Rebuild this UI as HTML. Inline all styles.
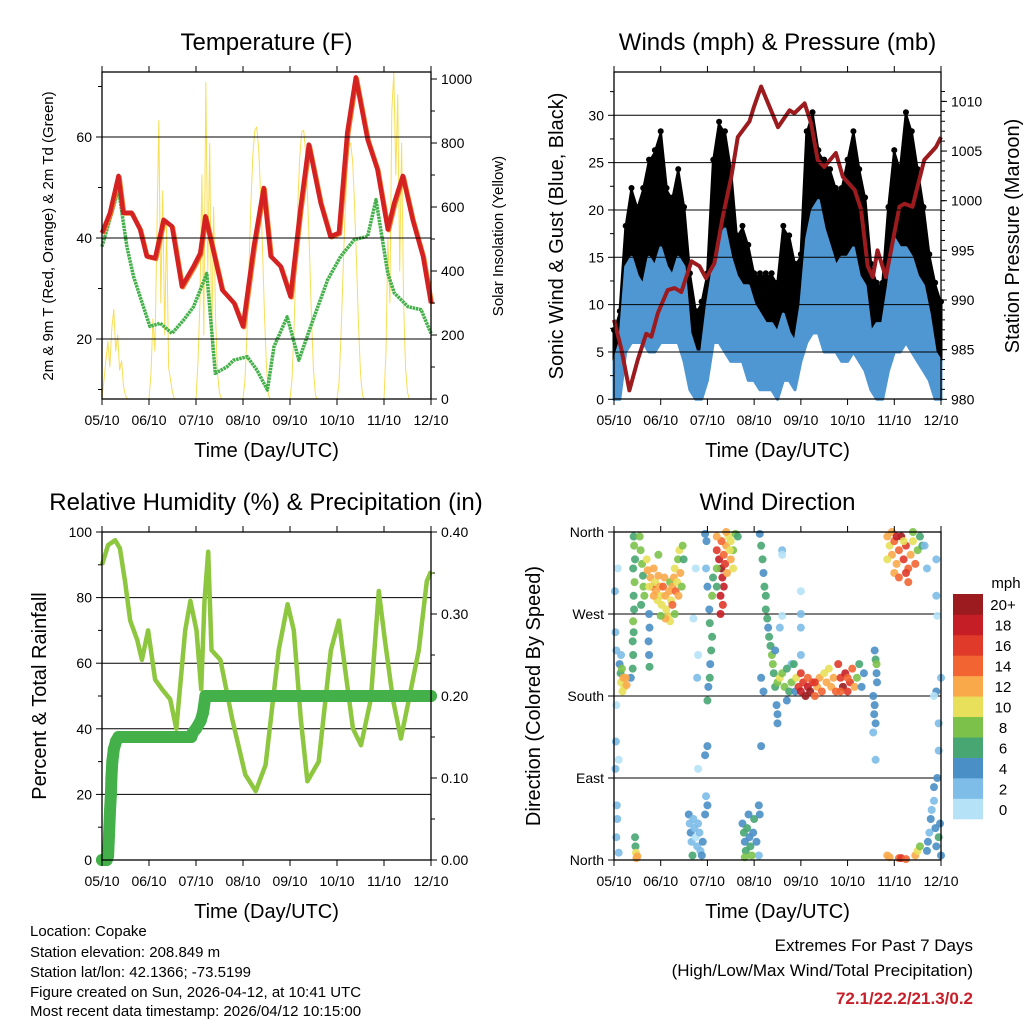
<!DOCTYPE html>
<html><head><meta charset="utf-8"><style>
html,body{margin:0;padding:0;background:#fff;}
svg{display:block;font-family:"Liberation Sans",sans-serif;}
</style></head><body>
<svg id="c" width="1024" height="1024" viewBox="0 0 1024 1024">
<g id="g"></g>
<g font-size="15" fill="#000">
<text x="30" y="936">Location: Copake</text>
<text x="30" y="957">Station elevation: 208.849 m</text>
<text x="30" y="977">Station lat/lon: 42.1366; -73.5199</text>
<text x="30" y="997">Figure created on Sun, 2026-04-12, at 10:41 UTC</text>
<text x="30" y="1016">Most recent data timestamp: 2026/04/12 10:15:00</text>
</g>
<g text-anchor="end">
<text x="973" y="951" font-size="17">Extremes For Past 7 Days</text>
<text x="973" y="976" font-size="17">(High/Low/Max Wind/Total Precipitation)</text>
<text x="973" y="1004" font-size="17" font-weight="bold" fill="#c8202a">72.1/22.2/21.3/0.2</text>
</g>
</svg>
<script>
// ---------- data ----------
const xTickLabels = ["05/10","06/10","07/10","08/10","09/10","10/10","11/10","12/10"];
const tempTimes = [0,0.17,0.35,0.45,0.63,0.81,0.95,1.13,1.31,1.49,1.7,1.95,2.09,2.2,2.38,2.56,2.81,3.0,3.23,3.44,3.59,3.8,4.01,4.22,4.4,4.65,4.86,5.04,5.22,5.4,5.65,5.86,6.08,6.22,6.4,6.61,6.83,7.0];
const tempValues = [41,45,52.3,45,45,41.7,36.4,36,43.6,42.3,30.4,34.4,37,44.3,37,29.7,27.1,22.5,38.3,49.9,36.4,34.4,28.4,45.6,58.5,47,40.3,41,60.9,71.8,59.5,53.6,41.7,47,52.3,43.6,36.4,27.1];
const dewTimes = [0,0.35,0.53,0.67,0.88,1.02,1.24,1.49,1.74,1.95,2.23,2.41,2.66,2.8,3.09,3.3,3.52,3.66,3.94,4.19,4.44,4.8,5.08,5.37,5.65,5.83,6.08,6.22,6.51,6.79,7.0];
const dewValues = [38.3,49.6,38.3,32.4,26.4,22.5,23.1,21.1,23.8,26.4,33,13.2,14.5,15.8,16.5,13.8,9.9,18.5,24.4,15.8,22.5,31.7,36.4,39.7,40.3,47.6,33,29.1,26.4,25.8,21.1];
// hourly solar insolation (W/m2), 24 per day
const solarValues = [
0,60,120,180,100,220,280,150,200,90,120,40,10,0,0,0,0,0,0,0,0,0,0,0,
0,80,250,150,500,870,300,650,200,550,100,60,20,0,0,0,0,0,0,0,0,0,0,0,
0,120,300,700,200,990,400,800,150,600,250,80,20,0,0,0,0,0,0,0,0,0,0,0,
0,60,200,400,600,760,840,850,780,640,460,260,100,10,0,0,0,0,0,0,0,0,0,0,
0,60,210,420,610,760,835,840,770,630,450,250,90,10,0,0,0,0,0,0,0,0,0,0,
0,50,190,380,560,700,790,800,740,600,420,230,80,10,0,0,0,0,0,0,0,0,0,0,
0,150,500,300,900,1020,700,950,400,800,300,100,20,0,0,0,0,0,0,0,0,0,0,0,
0];
const windHi = [4,6,14,15,13,12,15,14, 16,14,13,15,14,7,5,5, 10,14,17,18,15,13,12,12, 10,9,8,8,7,9,7,6, 10,17,20,21,18,16,14,15, 15,16,13,12,7,8,8,12, 17,16,16,15,13,12,9,5, 4];
const windLo = [0,0,5,6,6,6,5,5, 6,6,6,6,4,1,0,0, 2,6,6,5,4,4,4,2, 2,1,1,1,0,2,2,1, 4,6,7,7,5,5,5,4, 4,5,4,3,1,0,0,3, 5,5,6,5,4,3,2,0, 0];
const gustHi = [7,9,18,22,20,22,25,26, 28,22,21,24,20,13,9,10, 13,25,29,28,24,17,18,16, 13,13,13,13,12,18,17,14, 15,28,30,26,25,24,22,22, 25,28,24,21,14,12,12,20, 26,24,30,28,24,20,15,12, 10];
const gustLo = [0,2,9,10,10,9,11,11, 12,12,12,12,8,2,1,2, 6,11,14,12,9,8,7,5, 4,3,3,3,2,4,5,3, 8,12,13,12,10,10,10,9, 10,10,9,6,3,2,2,6, 11,10,11,10,8,7,4,1, 0];
const presTimes = [0,0.16,0.33,0.51,0.69,0.8,0.94,1.15,1.3,1.44,1.66,1.83,1.97,2.15,2.33,2.51,2.65,2.9,3.0,3.15,3.36,3.51,3.76,3.86,4.08,4.22,4.36,4.5,4.75,4.9,5.15,5.29,5.43,5.54,5.64,5.82,6.11,6.22,6.39,6.64,6.89,7.0];
const presValues = [988,985,980.9,984,986.6,986.3,988.7,991,991.2,990.8,993.9,993.4,992.2,993.7,998.4,1002.4,1006.4,1008,1009.5,1011.5,1009.1,1007.4,1009.1,1008.8,1009.8,1007.8,1004.1,1003.4,1004.8,1002.4,1001.1,999.1,993.4,992.3,995,992.3,999.4,999.7,999.4,1004.1,1005.4,1006.4];
const rhTimes = [0,0.13,0.28,0.38,0.49,0.6,0.75,0.85,0.98,1.13,1.28,1.45,1.58,1.77,1.88,2.01,2.11,2.18,2.26,2.33,2.52,2.77,3.05,3.27,3.48,3.76,3.95,4.08,4.23,4.37,4.61,4.87,5.04,5.12,5.34,5.51,5.72,5.89,6.02,6.19,6.36,6.53,6.74,6.91,7];
const rhValues = [90,96,97.5,95,85,73,67,61,70,55,52,49,40,70,79,70,52,79,94,64,61,43,26,21,29,64,78,70,43,24,30,64,73,64,40,35,49,82,67,49,37,49,64,85,88];
const precTimes = [0,0.1,0.13,0.15,0.17,0.19,0.2,0.22,0.25,0.3,0.35,1.9,1.93,2.0,2.1,2.15,2.2,7];
const precValues = [0,0,0.005,0.03,0.06,0.08,0.1,0.12,0.135,0.145,0.15,0.15,0.155,0.16,0.17,0.18,0.2,0.2];
const wdTime = [0.42,0.43,0.45,0.41,0.44,0.42,0.43,0.41,0.42,0.40,0.41,0.40,0.36,0.55,0.57,0.6,0.62,0.63,0.65,0.58,0.75,0.76,0.74,0.75,0.76,
0.7,0.72,0.78,0.82,0.85,0.88,0.9,0.93,0.95,0.98,1.0,1.02,1.05,1.08,1.1,1.12,1.15,1.18,1.2,1.22,1.25,1.28,1.3,1.32,1.35,1.37,1.4,1.42,1.45,1.47,1.49,1.3,1.2,1.1,1.0,0.95,0.85,0.75,1.25,1.38,
0.12,0.14,0.15,0.17,0.2,0.22,0.18,0.25,0.27,0.15,0.05,0.03,0.02,0.08,0.05,0.04,0.1,0.03,0.45,0.46,0.47,0.5,0.48,0.06,0.07,0.05,0.1,
1.6,1.62,1.64,1.66,1.7,1.72,1.75,1.78,1.8,1.83,1.85,1.9,1.95,1.97,2.0,1.68,1.88,
2.0,2.02,2.05,2.06,2.08,2.1,2.05,2.04,2.0,1.97,1.98,1.95,2.1,2.12,2.0,1.95,1.75,1.8,1.78,1.7,1.8,
2.2,2.25,2.3,2.32,2.35,2.28,2.35,2.4,2.45,2.5,2.55,2.6,2.65,2.3,2.38,2.42,2.5,2.55,2.2,2.28,2.33,2.4,2.48,2.2,2.2,
2.75,2.78,2.8,2.82,2.85,2.9,2.92,2.95,2.98,3.0,2.8,3.05,3.1,3.12,3.1,2.88,
3.12,3.15,3.18,3.2,3.22,3.25,3.25,3.28,3.3,3.32,3.35,3.38,3.4,3.42,3.45,3.48,3.5,3.5,3.2,3.45,3.15,3.15,
3.6,3.6,3.6,4.0,4.0,4.0,4.0,3.8,3.55,
3.5,3.55,3.6,3.65,3.7,3.75,3.8,3.85,3.88,3.9,3.95,4.0,4.05,4.1,4.15,4.2,4.25,4.3,4.35,4.4,4.45,4.5,4.55,4.6,4.65,4.7,4.75,4.8,4.85,4.9,4.95,5.0,5.05,5.1,5.15,5.2,5.25,5.3,5.35,4.0,4.15,4.3,4.85,5.0,3.7,
5.58,5.6,5.62,5.63,5.55,5.58,5.57,5.6,5.55,5.62,5.6,
5.85,5.9,5.95,6.0,6.05,6.1,6.15,6.2,6.25,6.3,6.35,6.4,6.45,6.5,6.55,6.6,6.0,6.1,6.3,6.2,5.95,6.4,6.25,6.05,5.85,
5.85,5.9,6.1,6.15,6.25,6.45,6.5,6.55,
6.7,6.72,6.75,6.78,6.8,6.85,6.88,6.9,6.95,6.98,7.0,6.85,6.92,6.95,6.95,6.9,7.0,6.65,6.7,6.9,6.9,6.92,6.85];
const wdDir = [355,345,330,320,305,290,275,262,250,240,225,210,200,355,340,325,312,300,290,280,270,255,240,225,212,
330,318,310,300,320,305,295,285,312,300,290,280,300,310,290,275,268,295,305,285,300,310,320,295,305,330,340,315,300,345,330,270,262,265,268,335,290,300,280,290,
215,205,195,210,200,190,185,200,192,225,230,250,295,320,170,130,110,100,25,15,8,4,2,60,45,25,8,
50,40,30,20,45,35,25,15,40,30,10,20,50,70,60,5,5,
175,190,200,215,230,245,260,275,300,320,350,358,290,310,125,115,320,225,200,265,100,
340,330,320,310,300,290,335,345,355,350,340,358,355,350,325,315,330,320,355,270,280,360,340,320,300,
40,30,20,10,35,25,15,5,30,45,3,20,60,50,5,50,
358,345,330,315,300,290,275,265,255,245,235,225,215,205,190,170,160,150,185,230,125,200,
340,335,268,295,255,270,225,215,255,
195,200,205,190,210,185,195,215,185,200,190,185,195,180,190,185,195,180,190,200,185,205,195,210,190,200,185,215,200,190,205,185,195,210,190,200,215,190,205,205,200,195,185,200,175,
230,220,205,195,180,170,160,150,140,215,110,
355,345,335,350,325,340,355,330,345,320,335,350,325,340,355,345,315,310,305,350,360,360,315,355,330,
5,3,2,2,1,5,10,15,
10,20,30,45,55,65,35,15,25,40,5,80,90,120,150,185,200,345,320,330,290,268,180];
const wdSpd = [7,8,7,6,8,7,6,8,7,6,6,7,5,8,8,8,7,8,9,6,5,4,4,5,6,
10,12,13,14,12,11,12,10,13,12,11,10,14,12,13,11,10,12,9,11,13,12,10,14,11,9,10,12,8,9,7,9,11,12,9,8,13,11,14,12,
4,6,10,8,12,11,10,12,13,3,2,2,2,1,1,2,1,2,7,7,10,12,13,2,2,2,2,
4,3,4,2,2,2,1,2,3,2,3,4,4,3,4,6,5,
6,4,6,5,6,7,6,5,4,3,4,4,8,7,4,4,1,1,2,1,1,
16,18,20,19,18,18,15,13,11,10,9,8,7,14,16,13,12,10,13,18,17,12,11,8,7,
5,6,4,7,6,4,6,8,4,6,9,5,4,4,3,4,
4,6,6,5,6,7,6,6,5,6,7,8,8,7,6,4,4,4,4,4,4,4,
2,1,1,1,2,2,2,2,2,
8,10,9,8,7,6,8,6,4,10,16,18,17,20,18,20,17,14,12,13,14,10,12,11,13,12,14,16,17,20,18,17,16,14,12,8,6,5,4,16,14,16,14,15,4,
4,6,4,4,4,4,4,4,3,8,2,
12,10,12,14,13,15,20,17,16,14,12,10,14,8,7,6,13,14,14,11,12,8,16,18,10,
12,13,14,16,15,12,10,8,
5,4,2,4,3,2,4,5,6,4,4,4,4,2,2,4,2,2,2,2,2,1,1];
const cbLabels = ["0","2","4","6","8","10","12","14","16","18","20+"];
const cbColors = ["#b5e2f7","#7dbde8","#4a8fc6","#47a671","#7cc24a","#e8e05a","#f9a94a","#f26532","#e03a2a","#c61e26","#9b1b1e"];

// ---------- helpers ----------
const NS="http://www.w3.org/2000/svg";
const root=document.getElementById('g');
function mk(tag,attrs,parent){const e=document.createElementNS(NS,tag);for(const k in attrs)e.setAttribute(k,attrs[k]);(parent||root).appendChild(e);return e;}
function txt(s,attrs,parent){const e=mk('text',attrs,parent);e.textContent=s;return e;}
function path(xs,ys){let d='';for(let i=0;i<xs.length;i++)d+=(i?'L':'M')+xs[i].toFixed(1)+' '+ys[i].toFixed(1);return d;}

function panel(P){
  const g=mk('g',{});
  
  
  P.g=g;
  P.xs=d=>P.x0+d*(P.x1-P.x0)/7;
  return g;
}
function frame(P){
  const r=mk('rect',{x:P.x0,y:P.y0,width:P.x1-P.x0,height:P.y1-P.y0,fill:'none',stroke:'#000','stroke-width':1.3},P.g);
  
  
  for(let i=0;i<=7;i++){
    const x=P.xs(i);
    mk('line',{x1:x,x2:x,y1:P.y1,y2:P.y1+6,stroke:'#000'},P.g);
    mk('line',{x1:x,x2:x,y1:P.y0,y2:P.y0-6,stroke:'#000'},P.g);
    const t=txt(xTickLabels[i],{x:x,y:P.y1+26,'font-size':14,'text-anchor':'middle'},P.g);
    
    
  }
  const xl=txt('Time (Day/UTC)',{x:(P.x0+P.x1)/2,y:P.y1+58,'font-size':20,'text-anchor':'middle'},P.g);
  
  
  const tt=txt(P.title,{x:P.tx||(P.x0+P.x1)/2,y:P.y0-22,'font-size':24,'text-anchor':'middle'},P.g);
  
  
}
function leftAxis(P,vals,labels,y,minors,grid){
  vals.forEach((v,i)=>{
    const yy=y(v);
    if(grid&&yy>P.y0+1&&yy<P.y1-1)mk('line',{x1:P.x0,x2:P.x1,y1:yy,y2:yy,stroke:'#000','stroke-width':1},P.g);
    mk('line',{x1:P.x0-6,x2:P.x0,y1:yy,y2:yy,stroke:'#000'},P.g);
    const t=txt(labels[i],{x:P.x0-10,y:yy+5,'font-size':14,'text-anchor':'end'},P.g);
    
    
  });
  (minors||[]).forEach(v=>{const yy=y(v);if(yy>=P.y0&&yy<=P.y1)mk('line',{x1:P.x0-4,x2:P.x0,y1:yy,y2:yy,stroke:'#000'},P.g);});
}
function rightAxis(P,vals,labels,y,minors){
  vals.forEach((v,i)=>{
    const yy=y(v);
    mk('line',{x1:P.x1,x2:P.x1+6,y1:yy,y2:yy,stroke:'#000'},P.g);
    const t=txt(labels[i],{x:P.x1+10,y:yy+5,'font-size':14},P.g);
    
    
  });
  (minors||[]).forEach(v=>{const yy=y(v);if(yy>=P.y0&&yy<=P.y1)mk('line',{x1:P.x1,x2:P.x1+4,y1:yy,y2:yy,stroke:'#000'},P.g);});
}
function vlabel(s,x,y,size,name,g){
  const t=txt(s,{x:0,y:0,'font-size':size,'text-anchor':'middle',transform:`translate(${x},${y}) rotate(-90)`},g);
  
  
}
function range(a,b,s){const r=[];for(let v=a;v<=b+1e-9;v+=s)r.push(+v.toFixed(4));return r;}

// ---------- Panel 1: Temperature ----------
const P1={x0:102,x1:431,y0:72,y1:399,title:'Temperature (F)',name:'temperature-panel'};
panel(P1);
const yT=t=>339-(t-20)*5.05, yS=s=>399-s*0.32;
{
  const tx=[];const ty=[];
  solarValues.forEach((v,i)=>{tx.push(P1.xs(i/24));ty.push(yS(v));});
  const s=mk('path',{d:path(tx,ty),fill:'none',stroke:'#f8de55','stroke-width':1,'stroke-linejoin':'round'},P1.g);
  
  
  const d=mk('path',{d:path(dewTimes.map(P1.xs),dewValues.map(yT)),fill:'none',stroke:'#44b04a','stroke-width':3.5,'stroke-dasharray':'2.5 0.7','stroke-linejoin':'round'},P1.g);
  
  
  const o=mk('path',{d:path(tempTimes.map(t=>P1.xs(t)+1.2),tempValues.map(v=>yT(v)+1)),fill:'none',stroke:'#f07a28','stroke-width':4,'stroke-linejoin':'round'},P1.g);
  
  
  const r=mk('path',{d:path(tempTimes.map(P1.xs),tempValues.map(yT)),fill:'none',stroke:'#d42222','stroke-width':4.5,'stroke-linejoin':'round'},P1.g);
  
  
  leftAxis(P1,[20,40,60],['20','40','60'],yT,[10,30,50,70],true);
  rightAxis(P1,range(0,1000,200),['0','200','400','600','800','1000'],yS,range(100,900,200));
  frame(P1);
  vlabel('2m & 9m T (Red, Orange) & 2m Td (Green)',53,236,15,'y-axis-title',P1.g);
  vlabel('Solar Insolation (Yellow)',503,236,15,'right-axis-title',P1.g);
}

// ---------- Panel 2: Winds ----------
const P2={x0:614,x1:941,y0:72,y1:399,title:'Winds (mph) & Pressure (mb)',name:'winds-pressure-panel'};
panel(P2);
const yW=w=>399.3-w*9.467, yP=p=>399.3-(p-980)*9.93;
{
  const tt=gustHi.map((_,i)=>i/8);
  const gx=tt.map(P2.xs);
  const gp=path(gx.concat(gx.slice().reverse()),gustHi.map(yW).concat(gustLo.map(yW).reverse()))+'Z';
  const gb=mk('path',{d:gp,fill:'#000',stroke:'#000','stroke-width':3,'stroke-linejoin':'round'},P2.g);
  
  
  gustHi.forEach((v,i)=>{const c=mk('circle',{cx:gx[i],cy:yW(v)-3,r:3,fill:'#000'},P2.g);
    
    });
  const wp=path(gx.concat(gx.slice().reverse()),windHi.map(yW).concat(windLo.map(yW).reverse()))+'Z';
  const wb=mk('path',{d:wp,fill:'#4f97d2',stroke:'#4f97d2','stroke-width':3,'stroke-linejoin':'round'},P2.g);
  
  
  const pl=mk('path',{d:path(presTimes.map(P2.xs),presValues.map(yP)),fill:'none',stroke:'#9b1b1e','stroke-width':4,'stroke-linejoin':'round'},P2.g);
  
  
  leftAxis(P2,range(0,30,5),['0','5','10','15','20','25','30'],yW,range(2.5,32.5,5),true);
  rightAxis(P2,range(980,1010,5),['980','985','990','995','1000','1005','1010'],yP,range(981,1011,1));
  frame(P2);
  vlabel('Sonic Wind & Gust (Blue, Black)',563,236,20,'y-axis-title',P2.g);
  vlabel('Station Pressure (Maroon)',1019,236,20,'right-axis-title',P2.g);
}

// ---------- Panel 3: RH & Precip ----------
const P3={x0:102,x1:431,y0:532,y1:860,title:'Relative Humidity (%) & Precipitation (in)',name:'humidity-precip-panel',tx:266};
panel(P3);
const yR=r=>860-r*3.28, yPr=p=>860-p*820;
{
  leftAxis(P3,range(0,100,20),['0','20','40','60','80','100'],yR,range(10,90,20),true);
  rightAxis(P3,range(0,0.4,0.1),['0.00','0.10','0.20','0.30','0.40'],yPr,range(0.05,0.35,0.1));
  const rl=mk('path',{d:path(rhTimes.map(P3.xs),rhValues.map(yR)),fill:'none',stroke:'#8dc63f','stroke-width':4.5,'stroke-linejoin':'round'},P3.g);
  
  
  const pl=mk('path',{d:path(precTimes.map(P3.xs),precValues.map(yPr)),fill:'none',stroke:'#44b04a','stroke-width':12,'stroke-linecap':'round','stroke-linejoin':'round'},P3.g);
  
  
  precTimes.forEach((t,i)=>{const c=mk('circle',{cx:P3.xs(t),cy:yPr(precValues[i]),r:6,fill:'#44b04a'},P3.g);
    
    });
  frame(P3);
  vlabel('Percent & Total Rainfall',46,696,20,'y-axis-title',P3.g);
}

// ---------- Panel 4: Wind direction ----------
const P4={x0:614,x1:941,y0:532,y1:860,title:'Wind Direction',name:'wind-direction-panel'};
panel(P4);
const yD=d=>860-d*328/360;
function spdColor(s){let i=Math.floor(s/2);if(i<0)i=0;if(i>10)i=10;return cbColors[i];}
{
  leftAxis(P4,[0,90,180,270,360],['North','East','South','West','North'],yD,[],true);
  wdTime.forEach((t,i)=>{
    const c=mk('circle',{cx:P4.xs(t),cy:yD(wdDir[i]),r:4,fill:spdColor(wdSpd[i]),'fill-opacity':0.9},P4.g);
    
    
  });
  frame(P4);
  vlabel('Direction (Colored By Speed)',540,696,20,'y-axis-title',P4.g);
  const cb=mk('g',{},P4.g);
  
  
  const h=225/11;
  cbColors.forEach((col,i)=>{
    const y=819-(i+1)*h;
    const r=mk('rect',{x:953,y:y,width:30,height:h+0.3,fill:col},cb);
    
    
    const t=txt(cbLabels[i],{x:1003,y:y+h/2+6,'font-size':15,'text-anchor':'middle'},cb);
    
    
  });
  const m=txt('mph',{x:1006,y:588,'font-size':15,'text-anchor':'middle'},cb);
  
  
}
</script>
</body></html>
